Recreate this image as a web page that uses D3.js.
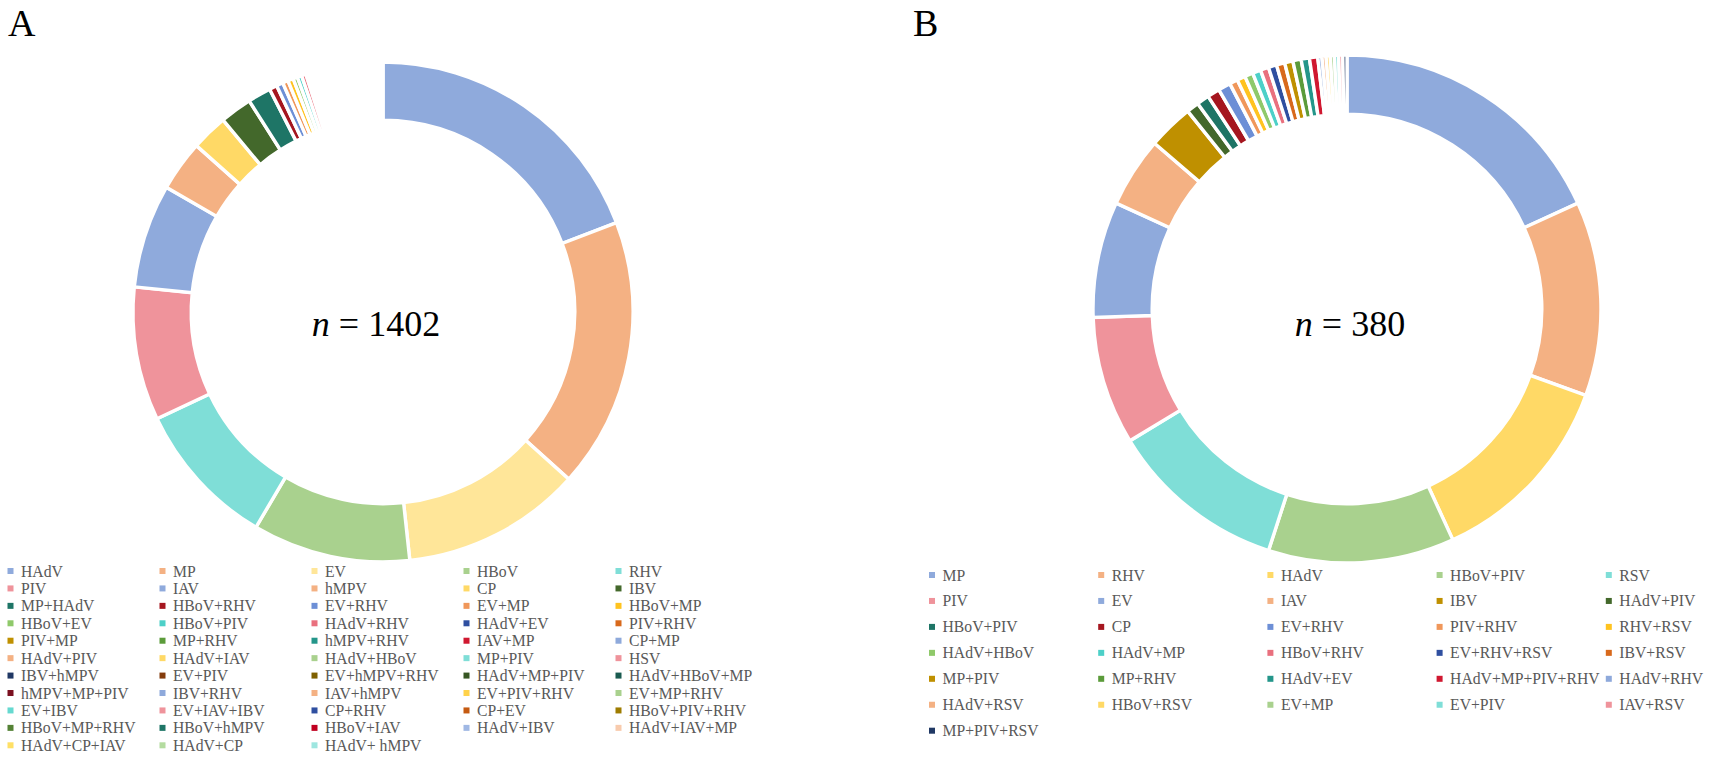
<!DOCTYPE html>
<html>
<head>
<meta charset="utf-8">
<script src="https://cdn.jsdelivr.net/npm/d3@7"></script>
<style>
  body { margin: 0; background: #fff; }
  svg { display: block; }
  svg text { font-family: "Liberation Serif", "Times New Roman", "DejaVu Serif", serif; }
</style>
</head>
<body>
<svg id="chart" width="1712" height="759"></svg>
<script>
// ── data: panel A (n = 1402) ──
const catsA = [
  "HAdV", "MP", "EV", "HBoV", "RHV",
  "PIV", "IAV", "hMPV", "CP", "IBV",
  "MP+HAdV", "HBoV+RHV", "EV+RHV", "EV+MP", "HBoV+MP",
  "HBoV+EV", "HBoV+PIV", "HAdV+RHV", "HAdV+EV", "PIV+RHV",
  "PIV+MP", "MP+RHV", "hMPV+RHV", "IAV+MP", "CP+MP",
  "HAdV+PIV", "HAdV+IAV", "HAdV+HBoV", "MP+PIV", "HSV",
  "IBV+hMPV", "EV+PIV", "EV+hMPV+RHV", "HAdV+MP+PIV", "HAdV+HBoV+MP",
  "hMPV+MP+PIV", "IBV+RHV", "IAV+hMPV", "EV+PIV+RHV", "EV+MP+RHV",
  "EV+IBV", "EV+IAV+IBV", "CP+RHV", "CP+EV", "HBoV+PIV+RHV",
  "HBoV+MP+RHV", "HBoV+hMPV", "HBoV+IAV", "HAdV+IBV", "HAdV+IAV+MP",
  "HAdV+CP+IAV", "HAdV+CP", "HAdV+ hMPV"
];
const valsA = [
  269, 245, 163, 143, 133,
  121, 94, 46, 33, 29,
  21, 7, 6, 5, 5,
  4, 4, 4, 3, 3,
  2, 2, 2, 2, 2,
  2, 2, 2, 2, 2,
  2, 2, 2, 2, 2,
  2, 2, 2, 2, 2,
  2, 2, 2, 2, 2,
  2, 2, 2, 2, 2,
  2, 1, 1
];
const paletteA = [
  "#8faadc", "#f4b183", "#ffe699", "#a9d18e", "#7fded7",
  "#ef939b", "#8faadc", "#f4b183", "#ffd966", "#43682b",
  "#1e7566", "#a5161f", "#6d8fd6", "#f0975a", "#ffc31f",
  "#8fc96a", "#4dd0c8", "#e9707e", "#2f4fa0", "#d8691c",
  "#bf9000", "#5b9b3a", "#24968a", "#d01830", "#8ea9db",
  "#f4b183", "#ffd966", "#a9d18e", "#7fded7", "#ef939b",
  "#203864", "#843c0c", "#7f6000", "#375623", "#1a5b50",
  "#7b1020", "#8ea9db", "#f4b183", "#ffd24a", "#a9d18e",
  "#66d9d0", "#ef939b", "#2f4fa0", "#c55a11", "#9e7c00",
  "#548235", "#1e7566", "#c00020", "#a0b8e4", "#f8cbad",
  "#ffe066", "#b4dca0", "#9ee6e0"
];

// ── data: panel B (n = 380) ──
const catsB = [
  "MP", "RHV", "HAdV", "HBoV+PIV", "RSV",
  "PIV", "EV", "IAV", "IBV", "HAdV+PIV",
  "HBoV+PIV", "CP", "EV+RHV", "PIV+RHV", "RHV+RSV",
  "HAdV+HBoV", "HAdV+MP", "HBoV+RHV", "EV+RHV+RSV", "IBV+RSV",
  "MP+PIV", "MP+RHV", "HAdV+EV", "HAdV+MP+PIV+RHV", "HAdV+RHV",
  "HAdV+RSV", "HBoV+RSV", "EV+MP", "EV+PIV", "IAV+RSV",
  "MP+PIV+RSV"
];
const valsB = [
  69, 47, 48, 45, 43,
  31, 28, 17, 11, 3,
  3, 3, 3, 2, 2,
  2, 2, 2, 2, 2,
  2, 2, 2, 2, 1,
  1, 1, 1, 1, 1,
  1
];
const paletteB = [
  "#8faadc", "#f4b183", "#ffd966", "#a9d18e", "#7fded7",
  "#ef939b", "#8faadc", "#f4b183", "#bf9000", "#43682b",
  "#1e7566", "#a5161f", "#6d8fd6", "#f0975a", "#ffc31f",
  "#8fc96a", "#4dd0c8", "#e9707e", "#2f4fa0", "#d8691c",
  "#bf9000", "#5b9b3a", "#24968a", "#d01830", "#8ea9db",
  "#f4b183", "#ffd966", "#a9d18e", "#7fded7", "#ef939b",
  "#203864"
];

const svg = d3.select("#chart");
const FONT = "Liberation Serif, Times New Roman, serif";

function drawDonut(cats, vals, palette, opt) {
  const data = cats.map((c, i) => ({ name: c, value: vals[i], i }));
  const pie = d3.pie().value((d) => d.value).sort(null).startAngle(0).endAngle(2 * Math.PI);
  const arc = d3.arc().innerRadius(opt.r * 0.767).outerRadius(opt.r);
  const color = d3.scaleOrdinal().domain(d3.range(cats.length)).range(palette);

  const g = svg.append("g").attr("transform", `translate(${opt.cx},${opt.cy})`);
  g.selectAll("path")
    .data(pie(data))
    .enter()
    .append("path")
    .attr("d", arc)
    .attr("fill", (d) => color(d.data.i))
    .attr("stroke", "#fff")
    .attr("stroke-width", 3.4)
    .attr("stroke-linejoin", "miter");

  // centre label
  const t = svg.append("text")
    .attr("x", opt.tx)
    .attr("y", opt.ty)
    .attr("text-anchor", "middle")
    .attr("font-family", FONT)
    .attr("font-size", "36px")
    .attr("fill", "#000");
  t.append("tspan").attr("font-style", "italic").text("n");
  t.append("tspan").text(` = ${d3.sum(vals)}`);

  // panel letter
  svg.append("text")
    .attr("x", opt.lx)
    .attr("y", 36)
    .attr("font-family", FONT)
    .attr("font-size", "38px")
    .attr("fill", "#000")
    .text(opt.letter);

  // legend, row-major in 5 columns
  const items = svg.append("g").selectAll("g.item")
    .data(data)
    .enter()
    .append("g")
    .attr("class", "item")
    .attr("transform", (d) => {
      const col = d.i % 5, row = Math.floor(d.i / 5);
      return `translate(${opt.legX + col * opt.colW},${opt.legY + row * opt.rowH})`;
    });
  items.append("rect")
    .attr("x", 0)
    .attr("y", -3)
    .attr("width", 6)
    .attr("height", 6)
    .attr("fill", (d) => color(d.i));
  items.append("text")
    .attr("x", 13.5)
    .attr("y", 0)
    .attr("dy", "0.35em")
    .attr("font-family", FONT)
    .attr("font-size", "15.7px")
    .attr("fill", "#595959")
    .text((d) => d.name);
}

drawDonut(catsA, valsA, paletteA, {
  cx: 383, cy: 312, r: 250,
  tx: 376, ty: 336, lx: 8, letter: "A",
  legX: 7.5, legY: 571, colW: 152, rowH: 17.43
});
drawDonut(catsB, valsB, paletteB, {
  cx: 1347, cy: 309, r: 254,
  tx: 1350, ty: 336, lx: 913, letter: "B",
  legX: 929, legY: 575, colW: 169.2, rowH: 25.95
});
</script>
</body>
</html>
